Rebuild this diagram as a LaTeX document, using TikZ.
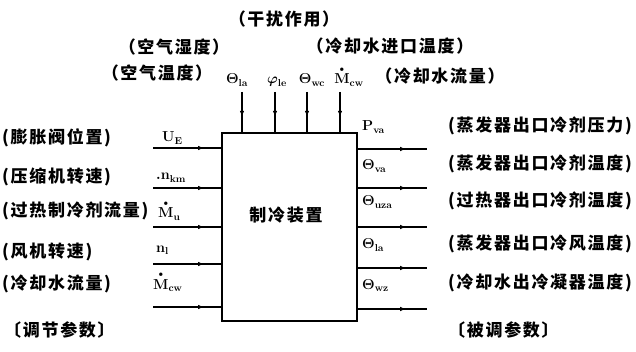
\documentclass[tikz,border=0pt]{standalone}
\usepackage{amsmath}
\usepackage[no-math]{fontspec}
\newfontfamily\cjk{Noto Sans CJK SC}[LetterSpace=10]
\usetikzlibrary{arrows.meta,decorations.markings}

\newcommand{\mdot}{\overset{\scriptscriptstyle\bullet}{\mathbf{M}}}

\tikzset{%
        plant box/.style={
            draw,
            line width=1.6pt,
            minimum width=135pt,
            minimum height=188pt
        },
        signal/.style={
            line width=1.2pt,
            postaction={decorate},
            decoration={markings,
                mark=at position #1 with {\arrow{Latex[length=6pt,width=4.5pt]}}}
        },
        signal/.default=0.7,
        cn label/.style={
            font=\cjk\bfseries\fontsize{17}{19}\selectfont,
            inner sep=0pt
        },
        sym label/.style={
            font=\boldmath\fontsize{14}{16}\selectfont,
            inner sep=0pt
        },
    }

\begin{document}
\begin{tikzpicture}[x=1pt, y=-1pt]

        \useasboundingbox (0,0) rectangle (636,352);

        \node [plant box] (plant) at (289.5,227) {};
        \node [cn label] (plant-name) at (286,215) {制冷装置};

        % disturbances from the top
        \foreach \x [count=\i] in {242,275,307,340}
        \coordinate (dist-\i) at (\x,92);

        \foreach \i in {1,...,4}
        \draw [signal=0.62] (dist-\i) -- (dist-\i |- plant.north);

        \foreach \s/\x [count=\i] in {{$\mathbf{\Theta}_{\mathbf{la}}$}/237, {$\varphi_{\mathbf{le}}$}/277, {$\mathbf{\Theta}_{\mathbf{wc}}$}/312, {$\mdot_{\mathbf{cw}}$}/349}
        \node [sym label, anchor=base] (dist-sym-\i) at (\x,84) {\s};

        \node [cn label] (dist-title) at (284,19) {（干扰作用）};
        \node [cn label] (dist-hum) at (174,47) {（空气湿度）};
        \node [cn label] (dist-temp) at (157,73) {（空气温度）};
        \node [cn label] (dist-win) at (390,46) {（冷却水进口温度）};
        \node [cn label] (dist-wflow) at (440,76) {（冷却水流量）};

        % manipulated inputs on the left
        \foreach \y [count=\i] in {148,188,227,264,307}
        \coordinate (in-\i) at (153,\y);

        \foreach \i in {1,...,5}
        \draw [signal=0.75] (in-\i) -- (in-\i -| plant.west);

        \foreach \s/\x/\y [count=\i] in {{$\mathbf{U}_{\mathbf{E}}$}/162/142, {$.\mathbf{n}_{\mathbf{km}}$}/156/180, {$\mdot_{\mathbf{u}}$}/158/218, {$\mathbf{n}_{\mathbf{l}}$}/156/252, {$\mdot_{\mathbf{cw}}$}/153/289}
        \node [sym label, anchor=base west] (in-sym-\i) at (\x,\y) {\s};

        \foreach \l/\y [count=\i] in {膨胀阀位置/138, 压缩机转速/177, 过热制冷剂流量/211, 风机转速/252, 冷却水流量/284}
        \node [cn label, anchor=west] (in-name-\i) at (2,\y) {(\l)};

        \node [cn label, anchor=west] (in-title) at (4,330) {〔调节参数〕};

        % controlled outputs on the right
        \foreach \y [count=\i] in {149,188,227,268,309}
        \coordinate (out-\i) at (427,\y);

        \foreach \i in {1,...,5}
        \draw [signal=0.7] (out-\i -| plant.east) -- (out-\i);

        \foreach \s/\y [count=\i] in {{$\mathbf{P}_{\mathbf{va}}$}/131, {$\mathbf{\Theta}_{\mathbf{va}}$}/170, {$\mathbf{\Theta}_{\mathbf{uza}}$}/206, {$\mathbf{\Theta}_{\mathbf{la}}$}/249, {$\mathbf{\Theta}_{\mathbf{wz}}$}/289}
        \node [sym label, anchor=base west] (out-sym-\i) at (362,\y) {\s};

        \foreach \l/\y [count=\i] in {蒸发器出口冷剂压力/126, 蒸发器出口冷剂温度/164, 过热器出口冷剂温度/201, 蒸发器出口冷风温度/244, 冷却水出冷凝器温度/283}
        \node [cn label, anchor=west] (out-name-\i) at (448,\y) {(\l)};

        \node [cn label, anchor=west] (out-title) at (448,330) {〔被调参数〕};
    \end{tikzpicture}
\end{document}
